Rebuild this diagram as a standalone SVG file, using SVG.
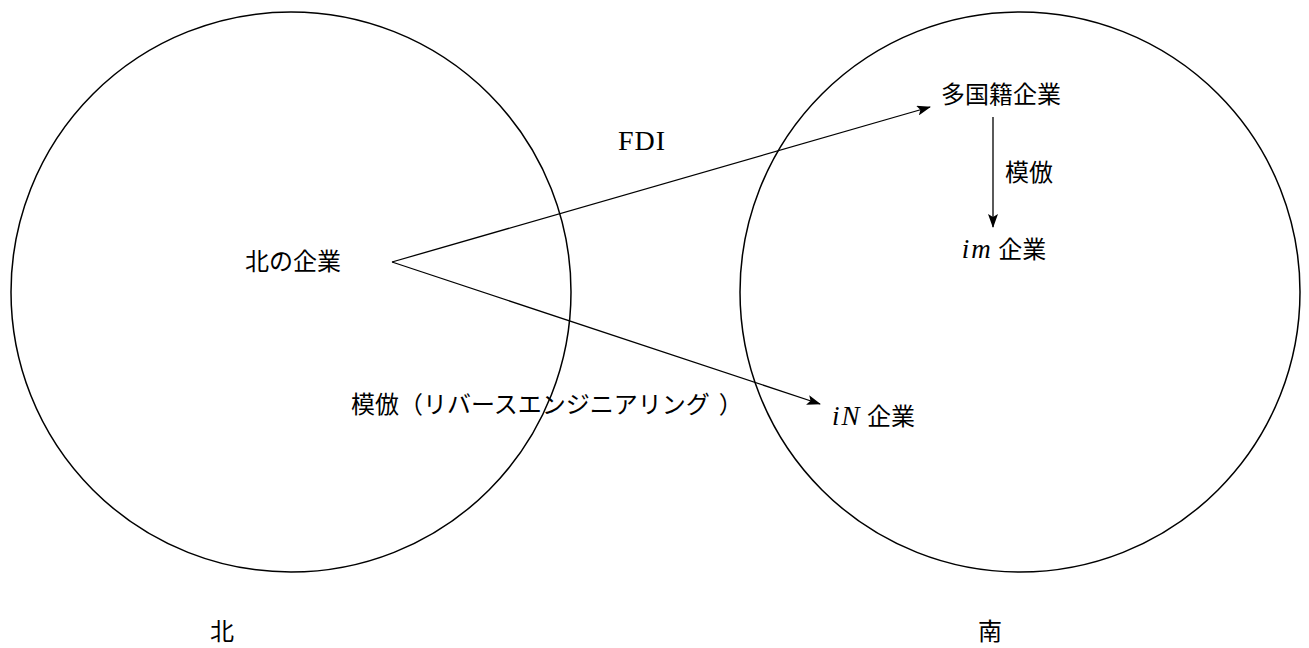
<svg xmlns="http://www.w3.org/2000/svg" width="1309" height="648" viewBox="0 0 1309 648">
<style>
.c{fill:none;stroke:#000;stroke-width:1.5}
.l{fill:none;stroke:#000;stroke-width:1.3}
.j{font-family:"Noto Sans CJK JP","Noto Sans",sans-serif;font-size:24px;fill:#000}
.m{font-family:"Liberation Serif",serif;font-style:italic;font-size:27px;letter-spacing:2px;fill:#000}
.s{font-family:"Liberation Serif",serif;font-size:28px;letter-spacing:1px;fill:#000}
</style>
<defs>
<marker id="ah" markerWidth="14" markerHeight="10" refX="13" refY="5" orient="auto" markerUnits="userSpaceOnUse">
<path d="M0,0 L14,5 L0,10 L3,5 Z" fill="#000"/>
</marker>
</defs>
<g id="north"><circle class="c" cx="291" cy="292" r="280"/><text class="j" x="222" y="640" text-anchor="middle">北</text></g>
<g id="south"><circle class="c" cx="1020" cy="292" r="280"/><text class="j" x="990" y="640" text-anchor="middle">南</text></g>
<g id="north-firm"><text class="j" x="245" y="270">北の企業</text></g>
<g id="multinational"><text class="j" x="941" y="103">多国籍企業</text></g>
<g id="im-firm"><text x="1004" y="258" text-anchor="middle"><tspan class="m">im</tspan><tspan class="j"> 企業</tspan></text></g>
<g id="iN-firm"><text x="832" y="425"><tspan class="m">iN</tspan><tspan class="j"> 企業</tspan></text></g>
<g id="connectors">
<line class="l" x1="392" y1="262" x2="930" y2="107" marker-end="url(#ah)"/>
<line class="l" x1="392" y1="262" x2="820" y2="404" marker-end="url(#ah)"/>
<line class="l" x1="993" y1="117" x2="993" y2="227" marker-end="url(#ah)"/>
<text class="s" x="642" y="150" text-anchor="middle">FDI</text>
<text class="j" x="1005" y="181">模倣</text>
<text class="j" x="351" y="413">模倣（リバースエンジニアリング<tspan dx="9">）</tspan></text>
</g>
</svg>
